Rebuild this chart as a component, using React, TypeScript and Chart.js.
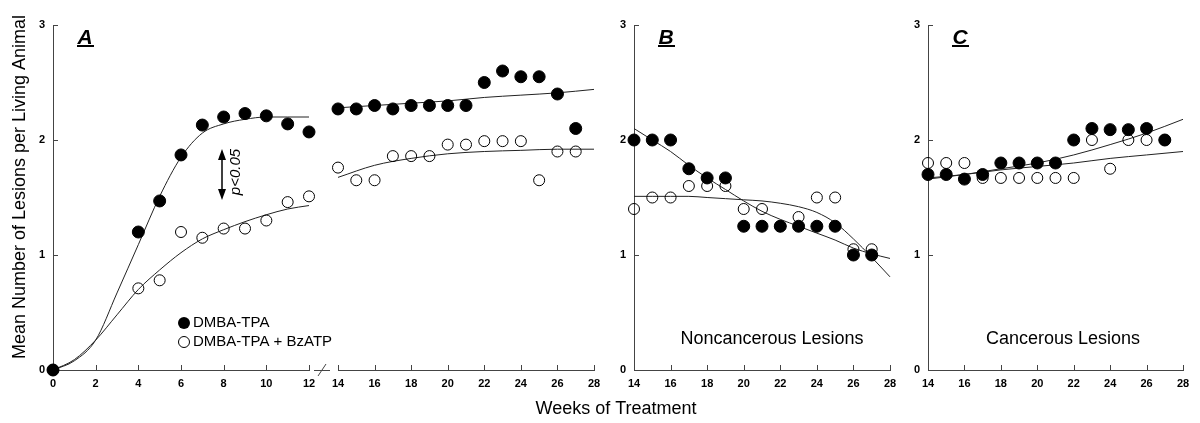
import React, { useEffect, useRef } from "react";
import { Chart, registerables } from "chart.js";

Chart.register(...registerables);

const W = 1200;
const H = 423;
const FONT = "'Liberation Sans', Arial, sans-serif";

// ---------- data ----------
const yTicks = [0, 1, 2, 3];
const xTicksEarly = [0, 2, 4, 6, 8, 10, 12];
const xTicksLate = [14, 16, 18, 20, 22, 24, 26, 28];

// Panel A, weeks 0-12
const weeksA1 = [0, 4, 5, 6, 7, 8, 9, 10, 11, 12];
const dmbaA1 = [0, 1.2, 1.47, 1.87, 2.13, 2.2, 2.23, 2.21, 2.14, 2.07];
const bzatpA1 = [0, 0.71, 0.78, 1.2, 1.15, 1.23, 1.23, 1.3, 1.46, 1.51];
const fitWeeksA1 = [0, 1, 2, 3, 4, 5, 6, 7, 8, 9, 10, 11, 12];
const fitDmbaA1 = [0, 0.08, 0.26, 0.67, 1.09, 1.51, 1.85, 2.06, 2.14, 2.18, 2.2, 2.2, 2.2];
const fitBzatpA1 = [0, 0.09, 0.26, 0.48, 0.7, 0.87, 1.02, 1.14, 1.22, 1.29, 1.35, 1.4, 1.43];

// weeks 14-27 (panels A right, B, C)
const weeksLate = [14, 15, 16, 17, 18, 19, 20, 21, 22, 23, 24, 25, 26, 27];

const dmbaA2 = [2.27, 2.27, 2.3, 2.27, 2.3, 2.3, 2.3, 2.3, 2.5, 2.6, 2.55, 2.55, 2.4, 2.1];
const bzatpA2 = [1.76, 1.65, 1.65, 1.86, 1.86, 1.86, 1.96, 1.96, 1.99, 1.99, 1.99, 1.65, 1.9, 1.9];
const fitWeeksA2 = [14, 16, 18, 20, 22, 24, 26, 28];
const fitDmbaA2 = [2.28, 2.3, 2.32, 2.34, 2.37, 2.39, 2.41, 2.44];
const fitBzatpA2 = [1.675, 1.78, 1.84, 1.88, 1.9, 1.91, 1.92, 1.92];

const dmbaB = [2.0, 2.0, 2.0, 1.75, 1.67, 1.67, 1.25, 1.25, 1.25, 1.25, 1.25, 1.25, 1.0, 1.0];
const bzatpB = [1.4, 1.5, 1.5, 1.6, 1.6, 1.6, 1.4, 1.4, 1.25, 1.33, 1.5, 1.5, 1.05, 1.05];
const fitWeeksB = [14, 15, 16, 17, 18, 19, 20, 21, 22, 23, 24, 25, 26, 27, 28];
const fitDmbaB = [2.1, 2.0, 1.9, 1.78, 1.67, 1.57, 1.47, 1.38, 1.31, 1.25, 1.19, 1.13, 1.06, 1.01, 0.97];
const fitBzatpB = [1.51, 1.51, 1.51, 1.51, 1.5, 1.49, 1.48, 1.47, 1.45, 1.42, 1.37, 1.28, 1.14, 0.98, 0.81];

const dmbaC = [1.7, 1.7, 1.66, 1.7, 1.8, 1.8, 1.8, 1.8, 2.0, 2.1, 2.09, 2.09, 2.1, 2.0];
const bzatpC = [1.8, 1.8, 1.8, 1.67, 1.67, 1.67, 1.67, 1.67, 1.67, 2.0, 1.75, 2.0, 2.0, 2.0];
const fitWeeksC = [14, 16, 18, 20, 22, 24, 26, 28];
const fitDmbaC = [1.66, 1.7, 1.75, 1.8, 1.87, 1.96, 2.06, 2.18];
const fitBzatpC = [1.67, 1.7, 1.74, 1.77, 1.8, 1.84, 1.87, 1.9];

const seriesNames = ["DMBA-TPA", "DMBA-TPA + BzATP"];
const yTitle = "Mean Number of Lesions per Living Animal";
const xTitle = "Weeks of Treatment";

// ---------- layout ----------
const TOP = 25;
const BOTTOM = 370;
const YW = 40;
const XH = 30;

type Panel = {
  key: string;
  left: number;
  right: number;
  xMin: number;
  xMax: number;
  xTicks: number[];
  showY: boolean;
  letter?: string;
  note?: string;
  noteDx?: number;
  weeks: number[];
  dmba: number[];
  bzatp: number[];
  fitWeeks: number[];
  fitDmba: number[];
  fitBzatp: number[];
  global?: boolean;
};

const panels: Panel[] = [
  {
    key: "A1", left: 53, right: 309, xMin: 0, xMax: 12, xTicks: xTicksEarly, showY: true, letter: "A",
    weeks: weeksA1, dmba: dmbaA1, bzatp: bzatpA1, fitWeeks: fitWeeksA1, fitDmba: fitDmbaA1, fitBzatp: fitBzatpA1,
    global: true,
  },
  {
    key: "A2", left: 338, right: 594, xMin: 14, xMax: 28, xTicks: xTicksLate, showY: false,
    weeks: weeksLate, dmba: dmbaA2, bzatp: bzatpA2, fitWeeks: fitWeeksA2, fitDmba: fitDmbaA2, fitBzatp: fitBzatpA2,
  },
  {
    key: "B", left: 634, right: 890, xMin: 14, xMax: 28, xTicks: xTicksLate, showY: true, letter: "B",
    note: "Noncancerous Lesions", noteDx: 138,
    weeks: weeksLate, dmba: dmbaB, bzatp: bzatpB, fitWeeks: fitWeeksB, fitDmba: fitDmbaB, fitBzatp: fitBzatpB,
  },
  {
    key: "C", left: 928, right: 1183, xMin: 14, xMax: 28, xTicks: xTicksLate, showY: true, letter: "C",
    note: "Cancerous Lesions", noteDx: 135,
    weeks: weeksLate, dmba: dmbaC, bzatp: bzatpC, fitWeeks: fitWeeksC, fitDmba: fitDmbaC, fitBzatp: fitBzatpC,
  },
];

const pts = (xs: number[], ys: number[]) => xs.map((x, i) => ({ x, y: ys[i] }));

const inwardTicks = {
  id: "inwardTicks",
  beforeDatasetsDraw(chart: any, _a: any, opts: any) {
    const { ctx, chartArea } = chart;
    const xs = chart.scales.x;
    const ys = chart.scales.y;
    ctx.save();
    ctx.strokeStyle = "#444";
    ctx.lineWidth = 1;
    ctx.beginPath();
    xs.ticks.forEach((t: any) => {
      const px = Math.round(xs.getPixelForValue(t.value)) + 0.5;
      ctx.moveTo(px, chartArea.bottom);
      ctx.lineTo(px, chartArea.bottom - 5);
    });
    if (opts.showY) {
      ys.ticks.forEach((t: any) => {
        const py = Math.round(ys.getPixelForValue(t.value)) + 0.5;
        ctx.moveTo(chartArea.left, py);
        ctx.lineTo(chartArea.left + 5, py);
      });
    }
    ctx.stroke();
    ctx.restore();
  },
};

const panelText = {
  id: "panelText",
  afterDraw(chart: any, _a: any, opts: any) {
    const { ctx, chartArea } = chart;
    ctx.save();
    ctx.fillStyle = "#000";
    if (opts.letter) {
      const cx = chartArea.left + 32;
      ctx.font = `italic bold 21px ${FONT}`;
      ctx.textAlign = "center";
      ctx.textBaseline = "alphabetic";
      ctx.fillText(opts.letter, cx, 44);
      ctx.fillRect(cx - 8, 45, 17, 2);
    }
    if (opts.note) {
      ctx.font = `18px ${FONT}`;
      ctx.textAlign = "center";
      ctx.textBaseline = "middle";
      ctx.fillText(opts.note, chartArea.left + opts.noteDx, 339);
    }
    if (opts.global) {
      // y axis title
      ctx.save();
      ctx.translate(20, 187);
      ctx.rotate(-Math.PI / 2);
      ctx.font = `18px ${FONT}`;
      ctx.textAlign = "center";
      ctx.textBaseline = "middle";
      ctx.fillText(yTitle, 0, 0);
      ctx.restore();
      // x axis title
      ctx.font = `18px ${FONT}`;
      ctx.textAlign = "center";
      ctx.textBaseline = "middle";
      ctx.fillText(xTitle, 616, 409);
      // legend
      ctx.beginPath();
      ctx.arc(184, 323, 6, 0, Math.PI * 2);
      ctx.fill();
      ctx.beginPath();
      ctx.arc(184, 342, 5.5, 0, Math.PI * 2);
      ctx.strokeStyle = "#000";
      ctx.lineWidth = 1;
      ctx.stroke();
      ctx.font = `15px ${FONT}`;
      ctx.textAlign = "left";
      ctx.fillText(seriesNames[0], 193, 323);
      ctx.fillText(seriesNames[1], 193, 342);
      // significance arrow
      ctx.strokeStyle = "#000";
      ctx.lineWidth = 1.5;
      ctx.beginPath();
      ctx.moveTo(222, 157);
      ctx.lineTo(222, 192);
      ctx.stroke();
      ctx.beginPath();
      ctx.moveTo(222, 149);
      ctx.lineTo(218, 160);
      ctx.lineTo(226, 160);
      ctx.closePath();
      ctx.fill();
      ctx.beginPath();
      ctx.moveTo(222, 200);
      ctx.lineTo(218, 189);
      ctx.lineTo(226, 189);
      ctx.closePath();
      ctx.fill();
      ctx.save();
      ctx.translate(236, 172);
      ctx.rotate(-Math.PI / 2);
      ctx.font = `italic 15px ${FONT}`;
      ctx.textAlign = "center";
      ctx.textBaseline = "middle";
      ctx.fillText("p<0.05", 0, 0);
      ctx.restore();
      // axis break
      ctx.strokeStyle = "#444";
      ctx.lineWidth = 1;
      ctx.beginPath();
      ctx.moveTo(314, 370.5);
      ctx.lineTo(330, 370.5);
      ctx.moveTo(318, 376);
      ctx.lineTo(326, 364);
      ctx.stroke();
    }
    ctx.restore();
  },
};

function makeConfig(p: Panel): any {
  const yw = p.showY ? YW : 0;
  const tickFont = { family: FONT, size: 11, weight: "bold" as const };
  return {
    type: "scatter",
    data: {
      datasets: [
        {
          label: seriesNames[0],
          data: pts(p.weeks, p.dmba),
          pointRadius: 6,
          pointBackgroundColor: "#000",
          pointBorderColor: "#000",
          pointBorderWidth: 1,
          showLine: false,
          clip: false,
          order: 0,
        },
        {
          label: seriesNames[1],
          data: pts(p.weeks, p.bzatp),
          pointRadius: 5.5,
          pointBackgroundColor: "rgba(255,255,255,0)",
          pointBorderColor: "#000",
          pointBorderWidth: 1,
          showLine: false,
          clip: false,
          order: 1,
        },
        {
          type: "line",
          label: seriesNames[0] + " fit",
          data: pts(p.fitWeeks, p.fitDmba),
          borderColor: "#222",
          borderWidth: 1,
          pointRadius: 0,
          cubicInterpolationMode: "monotone",
          fill: false,
          clip: false,
          order: 2,
        },
        {
          type: "line",
          label: seriesNames[1] + " fit",
          data: pts(p.fitWeeks, p.fitBzatp),
          borderColor: "#222",
          borderWidth: 1,
          pointRadius: 0,
          cubicInterpolationMode: "monotone",
          fill: false,
          clip: false,
          order: 3,
        },
      ],
    },
    options: {
      responsive: false,
      animation: false,
      events: [],
      layout: {
        padding: { left: p.left - yw, right: W - p.right, top: TOP, bottom: H - BOTTOM - XH },
      },
      plugins: {
        legend: { display: false },
        tooltip: { enabled: false },
        inwardTicks: { showY: p.showY },
        panelText: { letter: p.letter, note: p.note, noteDx: p.noteDx, global: !!p.global },
      },
      scales: {
        x: {
          type: "linear",
          min: p.xMin,
          max: p.xMax,
          afterBuildTicks: (s: any) => {
            s.ticks = p.xTicks.map((v) => ({ value: v }));
          },
          afterFit: (s: any) => {
            s.height = XH;
          },
          ticks: { font: tickFont, color: "#000", padding: 7, maxRotation: 0, autoSkip: false },
          grid: { display: false, drawTicks: false },
          border: { display: true, color: "#444", width: 1 },
        },
        y: {
          type: "linear",
          min: 0,
          max: 3,
          display: p.showY,
          afterBuildTicks: (s: any) => {
            s.ticks = yTicks.map((v) => ({ value: v }));
          },
          afterFit: (s: any) => {
            s.width = yw;
          },
          ticks: { font: tickFont, color: "#000", padding: 8 },
          grid: { display: false, drawTicks: false },
          border: { display: true, color: "#444", width: 1 },
        },
      },
    },
    plugins: [inwardTicks, panelText],
  };
}

function PanelCanvas({ panel }: { panel: Panel }) {
  const ref = useRef<HTMLCanvasElement | null>(null);
  useEffect(() => {
    if (!ref.current) return;
    const chart = new Chart(ref.current, makeConfig(panel));
    return () => chart.destroy();
  }, [panel]);
  return (
    <canvas
      ref={ref}
      width={W}
      height={H}
      style={{ position: "absolute", left: 0, top: 0, width: W, height: H }}
    />
  );
}

export default function App() {
  return (
    <div
      style={{
        position: "absolute",
        left: 0,
        top: 0,
        width: W,
        height: H,
        background: "#fff",
        overflow: "hidden",
      }}
    >
      {panels.map((p) => (
        <PanelCanvas key={p.key} panel={p} />
      ))}
    </div>
  );
}
